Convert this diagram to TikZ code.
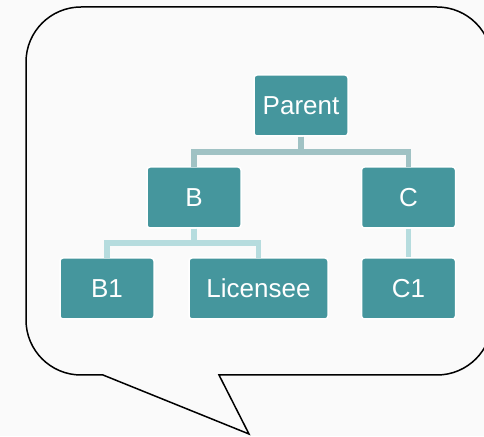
\documentclass[tikz,border=0pt]{standalone}
\usepackage{fontspec}
\setmainfont{Liberation Sans}
\usetikzlibrary{calc}

\definecolor{bg}{HTML}{FAFAFA}
\definecolor{boxteal}{HTML}{45969D}
\definecolor{linkone}{HTML}{A0C2C4}
\definecolor{linktwo}{HTML}{B6DCDE}

\begin{document}
\begin{tikzpicture}[x=1pt,y=1pt]
\useasboundingbox (0,0) rectangle (484,436);
\fill[bg] (0,0) rectangle (484,436);
\clip (0,0) rectangle (484,436);

% speech bubble
\draw[line width=1.5pt,fill=bg,line join=miter]
    (103,61) -- (249,2) -- (219,61) -- (437,61)
    arc[start angle=-90,end angle=0,radius=55] -- (492,374)
    arc[start angle=0,end angle=90,radius=55] -- (81,429)
    arc[start angle=90,end angle=180,radius=55] -- (26,116)
    arc[start angle=180,end angle=270,radius=55] -- cycle;

\begin{scope}[
    every node/.style={rectangle,rounded corners=3pt,fill=boxteal,draw=white,
        line width=1.5pt,text=white,minimum width=94pt,minimum height=61pt,
        font=\fontsize{26}{30}\selectfont}]
    \node (parent) at (301, 330.5) {Parent};

    \node (b) at (194, 238.5) {B};

    \node (c) at (408.5, 238.5) {C};

    \node (b1) at (107, 147.5) {B1};

    \node (lic) at (258.5, 147.5) [minimum width=139pt] {Licensee};

    \node (c1) at (408.5, 147.5) {C1};
\end{scope}

\coordinate (bar1) at (0, 284);
\coordinate (bar2) at (0, 193);

\begin{scope}[line width=5.5pt]
    \draw[linkone] (parent.south) -- (parent.south |- bar1) -| ($(b.north)+(0,-1)$);
    \draw[linkone] (parent.south) -- (parent.south |- bar1) -| ($(c.north)+(0,-1)$);

    \draw[linktwo] (b.south) -- (b.south |- bar2) -| ($(b1.north)+(0,-1)$);
    \draw[linktwo] (b.south) -- (b.south |- bar2) -| ($(lic.north)+(0,-1)$);
    \draw[linktwo] (c.south) -- (c1.north);
\end{scope}
\end{tikzpicture}
\end{document}
